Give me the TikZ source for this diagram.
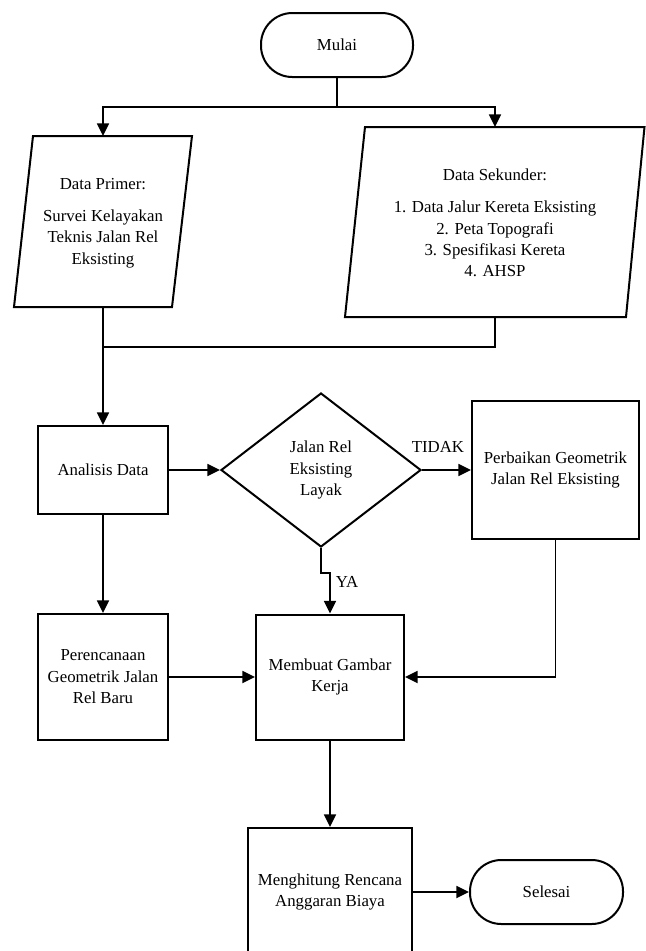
\documentclass[tikz,border=0pt]{standalone}
\usepackage{fontspec}
\setmainfont{Liberation Serif}
\usetikzlibrary{arrows.meta,shapes.geometric}
\newcommand\flowfont{\fontsize{12.6}{16.1}\selectfont}
\begin{document}
\begin{tikzpicture}[x=0.75pt,y=-0.75pt,
  shapeline/.style={draw, line width=1.5pt},
  procbox/.style={shapeline, rectangle, align=center, inner sep=2pt, font=\flowfont},
  termbox/.style={shapeline, rectangle, rounded corners=23.5pt, align=center, font=\flowfont},
  decbox/.style={shapeline, diamond, aspect=1.3, align=center, inner sep=0pt, font=\flowfont},
  txt/.style={align=center, inner sep=0pt, font=\flowfont},
  conn/.style={line width=1.3pt},
  arr/.style={conn, -{Triangle[length=9.5pt,width=9pt]}}]
\useasboundingbox (0,0) rectangle (646,951);
\clip (0,0) rectangle (646,951);
\fill[white] (0,0) rectangle (646,951);

% terminals
\node[termbox, minimum width=114pt, minimum height=48pt] (mulai) at (337,45) {Mulai};
\node[termbox, minimum width=114.75pt, minimum height=48pt] (selesai) at (546.5,892) {Selesai};

% input parallelograms
\draw[shapeline] (33,136) -- (192,136) -- (172,307) -- (14,307) -- cycle;
\coordinate (primtop) at (103,136);
\coordinate (primbot) at (103,307);
\node[txt] (primer) at (103,223) {Data Primer:\\[8pt]Survei Kelayakan\\Teknis Jalan Rel\\Eksisting};

\draw[shapeline] (365,127) -- (644.5,127) -- (626,317) -- (345,317) -- cycle;
\coordinate (sektop) at (495,127);
\coordinate (sekbot) at (495,317);
\node[txt] (sekunder) at (495,223) {Data Sekunder:\\[8pt]1. Data Jalur Kereta Eksisting\\2. Peta Topografi\\3. Spesifikasi Kereta\\4. AHSP};

% process boxes
\node[procbox, minimum width=97.5pt, minimum height=66pt] (analisis) at (103,470) {Analisis Data};
\node[decbox, minimum width=150pt, minimum height=115.5pt] (dec) at (321,470) {Jalan Rel\\Eksisting\\Layak};
\node[procbox, minimum width=125.25pt, minimum height=103.5pt] (perb) at (555.5,470) {Perbaikan Geometrik\\Jalan Rel Eksisting};
\node[procbox, minimum width=97.5pt, minimum height=94.5pt] (peren) at (103,677) {Perencanaan\\Geometrik Jalan\\Rel Baru};
\node[procbox, minimum width=111pt, minimum height=93.75pt] (membuat) at (330,677) {Membuat Gambar\\Kerja};
\node[procbox, minimum width=123pt, minimum height=96pt] (hitung) at (330,892) {Menghitung Rencana\\Anggaran Biaya};

% connectors
\coordinate (junc) at (337,107);
\draw[conn] (mulai.south) -- (junc);
\draw[arr] (junc) -| (primtop);
\draw[arr] (junc) -| (sektop);
\coordinate (merge) at (103,347);
\draw[arr] (primbot) -- (analisis.north);
\draw[conn] (sekbot) |- (merge);
\draw[arr] (analisis.east) -- (dec.west);
\draw[arr] (dec.east) -- (perb.west);
\node[txt] (tidak) at (438,447) {TIDAK};
\draw[arr] (dec.south) -- ++(0,25) -| (membuat.north);
\node[txt] (ya) at (347,582) {YA};
\draw[arr] (perb.south) |- (membuat.east);
\draw[arr] (analisis.south) -- (peren.north);
\draw[arr] (peren.east) -- (membuat.west);
\draw[arr] (membuat.south) -- (hitung.north);
\draw[arr] (hitung.east) -- (selesai.west);
\end{tikzpicture}
\end{document}
